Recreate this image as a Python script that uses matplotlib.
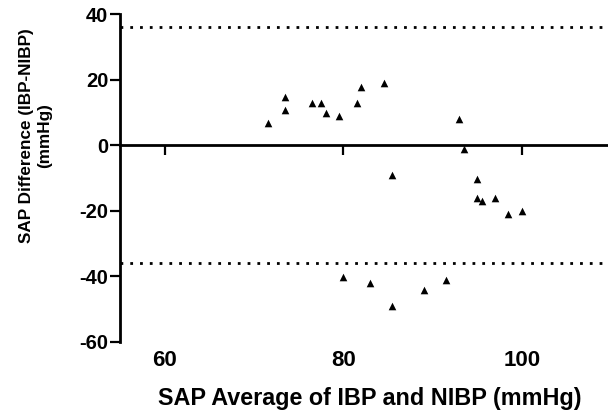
import matplotlib
matplotlib.use("Agg")
import matplotlib.pyplot as plt

plt.rcParams['font.family'] = ['Liberation Sans', 'DejaVu Sans']
plt.rcParams['font.weight'] = 'bold'

avg = [71.5, 73.5, 73.5, 76.5, 77.5, 78.0, 79.5, 81.5, 82.0, 84.5, 93.0, 93.5,
       85.5, 95.0, 95.0, 95.5, 97.0, 98.5, 100.0,
       80.0, 83.0, 85.5, 89.0, 91.5]
diff = [6.8, 14.8, 10.9, 12.8, 12.8, 9.9, 8.9, 12.8, 17.8, 18.9, 7.9, -1.2,
        -9.1, -10.2, -16.2, -17.1, -16.2, -21.1, -20.2,
        -40.2, -42.2, -49.1, -44.1, -41.1]
upper_loa = 36.0
lower_loa = -36.0
xticks = [60, 80, 100]
yticks = [-60, -40, -20, 0, 20, 40]

W, H = 608, 416
fig = plt.figure(figsize=(W / 100, H / 100), dpi=100)
x0, x1 = 120.3, 608
y_top, y_bot = 14.3, 341.7
ax = fig.add_axes([x0 / W, 1 - y_bot / H, (x1 - x0) / W, (y_bot - y_top) / H])

ax.scatter(avg, diff, marker='^', s=30, color='black', linewidths=0, zorder=3)
for lv in (upper_loa, lower_loa):
    ax.axhline(lv, color='black', lw=2.0, linestyle=(0, (1.0, 2.52)),
               dash_capstyle='butt')

ax.set_xlim(55, 109.65)
ax.set_ylim(-60, 40)

for s in ['top', 'right']:
    ax.spines[s].set_visible(False)
ax.spines['bottom'].set_position(('data', 0))
ax.spines['bottom'].set_linewidth(2.0)
ax.spines['left'].set_linewidth(2.0)

ax.set_yticks(yticks)
ax.set_yticklabels([str(v) for v in yticks], fontsize=14.5, fontweight='bold')
ax.tick_params(axis='y', direction='out', length=7, width=1.6, pad=1.5)
ax.set_xticks(xticks)
ax.tick_params(axis='x', direction='out', length=7, width=1.6, labelbottom=False)

for v in xticks:
    ax.annotate(str(v), xy=(v, -60), xycoords='data', xytext=(0, -17.3),
                textcoords='offset points', ha='center', va='baseline',
                fontsize=16, fontweight='bold')

fig.text(370 / W, 1 - 405 / H, 'SAP Average of IBP and NIBP (mmHg)',
         ha='center', va='baseline', fontsize=16.8, fontweight='bold')
fig.text(36 / W, 1 - 136 / H, 'SAP Difference (IBP-NIBP)\n(mmHg)', rotation=90,
         ha='center', va='center', multialignment='center', linespacing=1.25,
         fontsize=12.3, fontweight='bold')

fig.savefig('out.png', dpi=100)
